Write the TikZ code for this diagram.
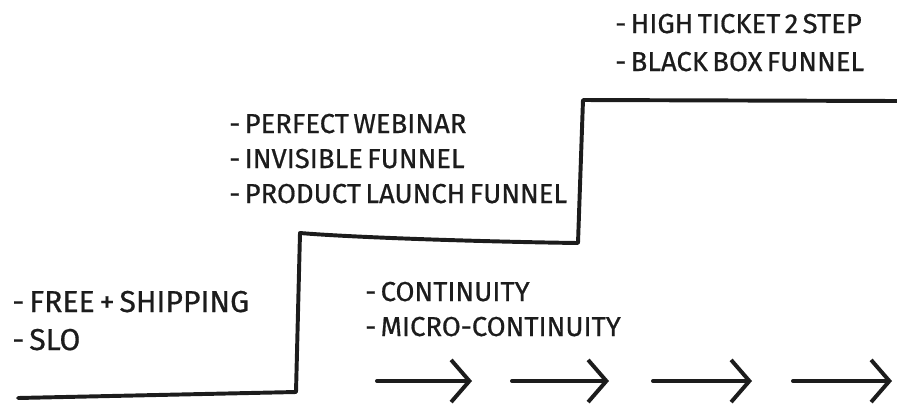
\documentclass[tikz,border=0pt]{standalone}
\usepackage{fontspec}
\setmainfont{Fira Sans}[WordSpace=0.6]
\usepackage{tikz}
\usetikzlibrary{positioning,arrows.meta}
\definecolor{cink}{RGB}{28,28,28}

\begin{document}
\begin{tikzpicture}[x=0.025cm, y=-0.025cm,
  txt/.style={anchor=base west, inner sep=0pt, text=cink, font=\fontsize{19.5}{22}\selectfont\addfontfeature{FakeBold=0.6}},
  big/.style={font=\fontsize{21.5}{24}\selectfont\addfontfeature{FakeBold=0.6}},
  stair/.style={draw=cink, line width=2.8pt, line join=round, line cap=round},
  flow/.style={-{Straight Barb[length=13pt, width=30pt]}, draw=cink, line width=2.8pt, line cap=round}]
\useasboundingbox (0,0) rectangle (897,404);
\coordinate (s0) at (18,398);
\coordinate (s1) at (296,392);
\coordinate (s2) at (300,233);
\coordinate (s3) at (578,243);
\coordinate (s4) at (583,100);
\coordinate (s5) at (897,101);
\draw[stair] (s0) -- (s1) -- (s2) .. controls (360,238) and (500,242) .. (s3) -- (s4) -- (s5);
\node[txt, big] (f1) at (12,312) {- FREE + SHIPPING};
\node[txt, big] (f2) at (12,350) {- SLO};
\node[txt] (w1) at (229,133) {- PERFECT WEBINAR};
\node[txt] (w2) at (229,168) {- INVISIBLE FUNNEL};
\node[txt] (w3) at (229,203) {- PRODUCT LAUNCH FUNNEL};
\node[txt] (h1) at (615,33) {- HIGH TICKET 2 STEP};
\node[txt] (h2) at (615,71) {- BLACK BOX FUNNEL};
\node[txt] (c1) at (365,301) {- CONTINUITY};
\node[txt] (c2) at (365,336) {- MICRO-CONTINUITY};
\coordinate (a0) at (377,381);
\coordinate (a1) at (472,381);
\coordinate (b0) at (512,381);
\coordinate (b1) at (609,381);
\coordinate (d0) at (653,381);
\coordinate (d1) at (752,381);
\coordinate (e0) at (793,381);
\coordinate (e1) at (892,381);
\draw[flow] (a0) -- (a1);
\draw[flow] (b0) -- (b1);
\draw[flow] (d0) -- (d1);
\draw[flow] (e0) -- (e1);
\end{tikzpicture}
\end{document}
